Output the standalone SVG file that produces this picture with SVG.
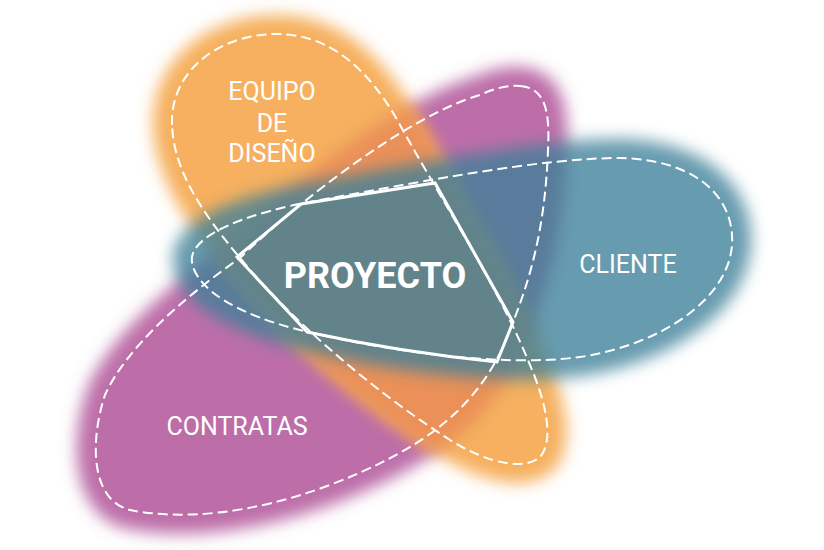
<svg xmlns="http://www.w3.org/2000/svg" xmlns:xlink="http://www.w3.org/1999/xlink" width="824" height="550" viewBox="0 0 824 550">
<style>
.lbl{font-family:Roboto,"Liberation Sans",sans-serif;fill:#fff;text-anchor:middle;font-size:25px}
.big{font-weight:bold;font-size:36px}
.dash{fill:none;stroke:#fff;stroke-width:2;stroke-dasharray:10 5}
.blob{stroke-width:38;stroke-linejoin:round}
</style>
<defs>
<filter id="soft" x="-20%" y="-20%" width="140%" height="140%"><feGaussianBlur stdDeviation="8"/></filter>
<path id="pO" d="M172,125 C170,70 220,34 277,34 C330,34 370,70 400,125 C450,215 500,290 530,365 C545,400 555,440 540,457 C525,470 490,465 450,440 C380,395 300,330 240,258 C200,210 174,170 172,125 Z"/>
<path id="pP" d="M520,86 C545,88 550,110 548,150 C545,230 530,280 510,330 C480,410 420,450 330,485 C250,515 180,520 130,510 C90,500 90,440 105,395 C125,350 180,300 240,258 C300,200 410,115 480,95 C495,88 508,85 520,86 Z"/>
<path id="pB" d="M192,262 C188,235 250,212 320,200 C420,182 540,158 620,158 C700,160 735,200 732,245 C728,300 660,345 580,357 C500,368 380,350 300,330 C240,315 196,290 192,262 Z"/>
<mask id="mP" maskUnits="userSpaceOnUse" x="0" y="0" width="824" height="550">
<use xlink:href="#pP" class="blob" fill="#fff" stroke="#fff" filter="url(#soft)"/>
</mask>
</defs>
<rect width="824" height="550" fill="#fff"/>
<g id="contratas">
<use xlink:href="#pP" class="blob" fill="#BD6EA9" stroke="#BD6EA9" filter="url(#soft)"/>
</g>
<g id="equipo-de-diseno">
<use xlink:href="#pO" class="blob" fill="#F6B05F" stroke="#F6B05F" filter="url(#soft)"/>
<use xlink:href="#pO" class="blob" fill="#EA9058" stroke="#EA9058" filter="url(#soft)" mask="url(#mP)"/>
</g>
<g id="cliente">
<use xlink:href="#pB" class="blob" fill="#3C8099" stroke="#3C8099" filter="url(#soft)" opacity="0.78"/>
</g>
<g id="outlines">
<use xlink:href="#pO" class="dash"/>
<use xlink:href="#pP" class="dash"/>
<use xlink:href="#pB" class="dash"/>
</g>
<g id="proyecto">
<path d="M237,257 L301,204 L435,183 L513,322 L497,362 Q400,352 307,332 Z" fill="none" stroke="#fff" stroke-width="3" stroke-linejoin="miter"/>
<text class="lbl big" x="375" y="288">PROYECTO</text>
</g>
<g id="labels">
<text class="lbl" x="272" y="100">EQUIPO</text>
<text class="lbl" x="272" y="132">DE</text>
<text class="lbl" x="272" y="162">DISEÑO</text>
<text class="lbl" x="628" y="273">CLIENTE</text>
<text class="lbl" x="237" y="435">CONTRATAS</text>
</g>
</svg>
